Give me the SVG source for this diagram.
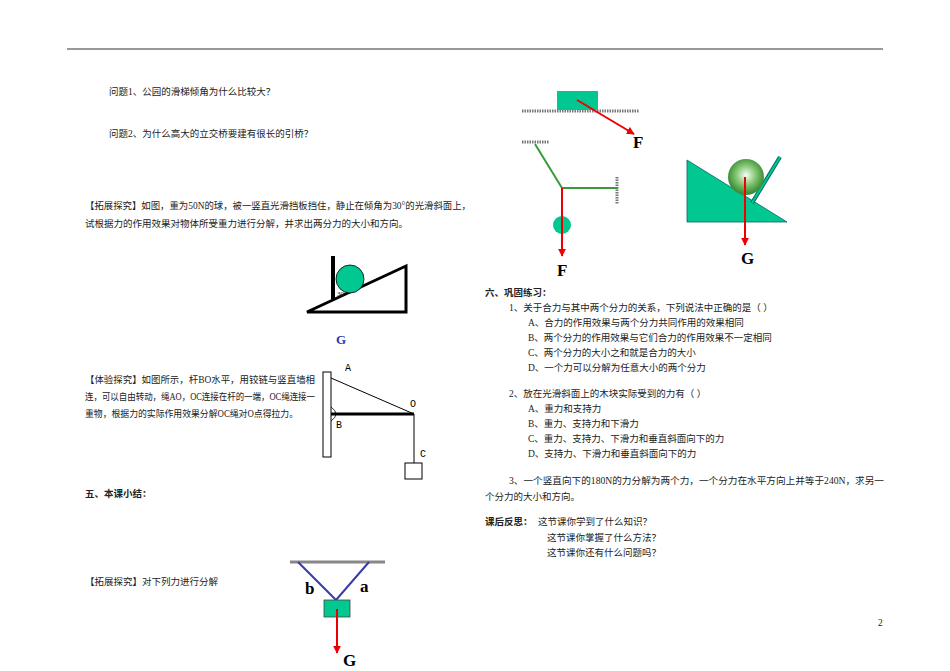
<svg xmlns="http://www.w3.org/2000/svg" width="950" height="671" viewBox="0 0 950 671">
<defs>
<style>
text{font-family:"Liberation Serif","Noto Sans CJK SC",serif;font-size:9.5px;fill:#222}
.b{font-weight:bold}
.big{font-family:"Liberation Serif",serif;font-weight:bold;font-size:17px;fill:#000}
.lab{font-family:"Liberation Mono",monospace;font-size:10px;fill:#000}
.hatch{stroke:#777;stroke-width:3;stroke-dasharray:1.5 1}
.red{stroke:#e00;stroke-width:2;fill:none}
</style>
<marker id="ah" viewBox="0 0 10 10" refX="9" refY="5" markerWidth="4" markerHeight="4" orient="auto"><path d="M0,0L10,5L0,10z" fill="#e00"/></marker>
<radialGradient id="rg" cx="0.5" cy="0.45" r="0.5"><stop offset="0" stop-color="#f4fff4"/><stop offset="0.6" stop-color="#7cbf6a"/><stop offset="1" stop-color="#3f8f3a"/></radialGradient>
</defs>
<rect width="950" height="671" fill="#fff"/>
<line x1="67" y1="49" x2="883" y2="49" stroke="#333" stroke-width="1"/>
<g id="text-left">
<text x="109" y="95">问题1、公园的滑梯倾角为什么比较大？</text>
<text x="109" y="137">问题2、为什么高大的立交桥要建有很长的引桥？</text>
<text x="85" y="209" textLength="386" lengthAdjust="spacingAndGlyphs">【拓展探究】如图，重为50N的球，被一竖直光滑挡板挡住，静止在倾角为30°的光滑斜面上，</text>
<text x="85" y="227">试根据力的作用效果对物体所受重力进行分解，并求出两分力的大小和方向。</text>
<text x="85" y="383" textLength="230" lengthAdjust="spacingAndGlyphs">【体验探究】如图所示，杆BO水平，用铰链与竖直墙相</text>
<text x="85" y="400" textLength="230" lengthAdjust="spacingAndGlyphs">连，可以自由转动，绳AO，OC连接在杆的一端，OC绳连接一</text>
<text x="85" y="417" textLength="213" lengthAdjust="spacingAndGlyphs">重物，根据力的实际作用效果分解OC绳对O点得拉力。</text>
<text x="85" y="497" class="b">五、本课小结：</text>
<text x="85" y="585">【拓展探究】对下列力进行分解</text>
</g>
<g id="text-right">
<text x="485" y="296" class="b">六、巩固练习：</text>
<text x="509" y="311">1、关于合力与其中两个分力的关系，下列说法中正确的是（     ）</text>
<text x="528" y="326">A、合力的作用效果与两个分力共同作用的效果相同</text>
<text x="528" y="341">B、两个分力的作用效果与它们合力的作用效果不一定相同</text>
<text x="528" y="356">C、两个分力的大小之和就是合力的大小</text>
<text x="528" y="371">D、一个力可以分解为任意大小的两个分力</text>
<text x="509" y="397">2、放在光滑斜面上的木块实际受到的力有（     ）</text>
<text x="528" y="412">A、重力和支持力</text>
<text x="528" y="427">B、重力、支持力和下滑力</text>
<text x="528" y="442">C、重力、支持力、下滑力和垂直斜面向下的力</text>
<text x="528" y="457">D、支持力、下滑力和垂直斜面向下的力</text>
<text x="509" y="484" textLength="375" lengthAdjust="spacingAndGlyphs">3、一个竖直向下的180N的力分解为两个力，一个分力在水平方向上并等于240N，求另一</text>
<text x="485" y="500">个分力的大小和方向。</text>
<text x="485" y="525" class="b">课后反思：</text>
<text x="538" y="525">这节课你学到了什么知识？</text>
<text x="547" y="541">这节课你掌握了什么方法？</text>
<text x="547" y="556">这节课你还有什么问题吗？</text>
<text x="878" y="626">2</text>
</g>
<g id="ball-incline">
<polygon points="307,312 406,266 406,312" fill="none" stroke="#000" stroke-width="3"/>
<line x1="333" y1="256" x2="333" y2="299" stroke="#000" stroke-width="4"/>
<circle cx="350" cy="279" r="14" fill="#00c890" stroke="#000" stroke-width="0.8"/>
<text x="337" y="296" style="font-size:7px">30</text>
<text x="336" y="344" class="big" style="fill:#2b3bb0;font-size:13px">G</text>
</g>
<g id="wall-beam">
<rect x="323" y="372" width="8" height="85" fill="#fff" stroke="#000"/>
<line x1="331" y1="378" x2="414" y2="414" stroke="#000" stroke-width="1"/>
<line x1="331" y1="414" x2="414" y2="414" stroke="#000" stroke-width="3"/>
<path d="M331,407 Q341,414 331,421" fill="none" stroke="#000" stroke-width="0.8"/>
<line x1="414" y1="414" x2="414" y2="463" stroke="#000" stroke-width="1"/>
<rect x="405" y="463" width="17" height="16" fill="#fff" stroke="#000"/>
<text x="345" y="371" class="lab">A</text>
<text x="410" y="407" class="lab">O</text>
<text x="336" y="428" class="lab">B</text>
<text x="420" y="457" class="lab">C</text>
</g>
<g id="block-ground">
<line x1="522" y1="111" x2="639" y2="111" class="hatch"/>
<rect x="557" y="91" width="41" height="19" fill="#00c890"/>
<line x1="577" y1="100" x2="634" y2="134" class="red" marker-end="url(#ah)"/>
<text x="633" y="148" class="big">F</text>
</g>
<g id="hanging-ball">
<line x1="522" y1="142" x2="549" y2="142" class="hatch"/>
<line x1="617" y1="177" x2="617" y2="204" class="hatch"/>
<polyline points="535,144 562,188 618,188" fill="none" stroke="#3a9a3a" stroke-width="2"/>
<circle cx="562" cy="225" r="9" fill="#00c890"/>
<line x1="562" y1="188" x2="562" y2="256" class="red" marker-end="url(#ah)"/>
<text x="557" y="276" class="big">F</text>
</g>
<g id="ball-wedge">
<polygon points="687,160 687,222 787,222" fill="#00c890" stroke="#066" stroke-width="0.8"/>
<line x1="752" y1="203" x2="780" y2="157" stroke="#066" stroke-width="4"/>
<line x1="752" y1="203" x2="780" y2="157" stroke="#00c890" stroke-width="2"/>
<circle cx="746" cy="177" r="18" fill="url(#rg)"/>
<line x1="745" y1="177" x2="745" y2="245" class="red" marker-end="url(#ah)"/>
<text x="741" y="264" class="big">G</text>
</g>
<g id="two-ropes">
<line x1="290" y1="562" x2="385" y2="562" stroke="#888" stroke-width="3"/>
<polyline points="298,562 336,600 369,562" fill="none" stroke="#3a3aaa" stroke-width="2"/>
<rect x="324" y="600" width="26" height="17" fill="#00c890" stroke="#444" stroke-width="0.8"/>
<line x1="337" y1="609" x2="337" y2="653" class="red" marker-end="url(#ah)"/>
<text x="305" y="594" class="big">b</text>
<text x="360" y="592" class="big">a</text>
<text x="343" y="666" class="big">G</text>
</g>
</svg>
